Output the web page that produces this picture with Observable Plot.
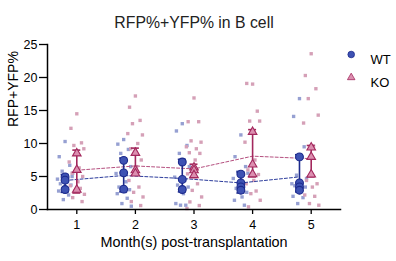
<!DOCTYPE html>
<html><head><meta charset="utf-8">
<script src="https://cdn.jsdelivr.net/npm/d3@7"></script>
<script src="https://cdn.jsdelivr.net/npm/@observablehq/plot@0.6"></script>
<style>
body{margin:0;background:#fff;}
#chart{width:396px;height:261px;}
</style>
</head><body><div id="chart"></div>
<script>
// ---- data ----
const months = [1, 2, 3, 4, 5];
const yTicks = [0, 5, 10, 15, 20, 25];
const groups = ["WT", "KO"];
const title = "RFP%+YFP% in B cell";
const yLabel = "RFP+YFP%";
const xLabel = "Month(s) post-transplantation";

// individual mice (small squares), one list per month
const wtPoints = [
  [10.3, 8.0, 6.7, 5.8, 5.0, 4.6, 4.2, 3.9, 3.7, 3.3, 2.8, 2.2, 1.5, 5.5],
  [10.6, 9.9, 9.1, 8.5, 6.5, 5.45, 4.2, 3.4, 3.0, 2.7, 2.4, 1.7, 0.9, 0.5],
  [13.0, 11.9, 9.7, 8.5, 6.5, 4.9, 4.4, 3.7, 3.4, 2.4, 0.9, 0.65, 0.65],
  [11.3, 8.0, 6.5, 5.7, 5.5, 4.7, 3.4, 3.2, 2.6, 1.9, 1.4, 0.65],
  [16.8, 14.1, 9.5, 5.2, 4.7, 3.9, 3.9, 3.6, 3.4, 2.7, 2.0, 1.8, 0.9]
];
const koPoints = [
  [14.5, 12.3, 10.1, 9.7, 9.2, 7.2, 6.3, 5.5, 5.0, 4.2, 3.6, 3.2, 2.8, 2.3, 1.8, 1.2],
  [17.2, 15.5, 13.5, 13.0, 11.3, 11.5, 10.0, 9.2, 7.5, 6.5, 4.4, 3.4, 2.6, 1.9, 1.2, 0.6],
  [16.9, 13.3, 13.3, 10.4, 10.2, 9.5, 9.2, 8.6, 8.5, 7.5, 5.4, 3.9, 2.9, 1.9, 1.15, 0.6, 0.15],
  [19.0, 19.1, 14.9, 13.4, 13.4, 10.2, 7.5, 6.0, 5.3, 4.4, 3.9, 2.8, 2.4, 1.4, 0.4],
  [23.6, 20.3, 18.3, 16.8, 14.3, 13.1, 9.6, 4.4, 3.9, 3.4, 2.2, 2.0, 0.9, 0.65]
];
// experiment means (large symbols)
const wtExp = [
  [4.94, 4.44, 3.03],
  [7.45, 5.55, 3.08],
  [7.2, 4.55, 3.03],
  [5.35, 4.03, 3.42, 2.92],
  [7.97, 4.03, 3.42, 2.92]
];
const koExp = [
  [8.5, 6.0, 3.0],
  [8.58, 5.95, 5.45],
  [6.36, 5.95, 5.2],
  [11.76, 6.82, 5.35],
  [9.39, 7.97, 5.3]
];
// overall means (dashed lines)
const wtMean = [4.4, 5.15, 4.7, 4.03, 4.94];
const koMean = [5.95, 6.6, 6.15, 8.08, 7.7];
// error bars
const wtLow = [2.6, 2.67, 2.67, 2.5, 2.67];
const wtHigh = [5.3, 7.8, 7.6, 5.7, 8.3];
const koLow = [2.5, 5.2, 4.85, 4.94, 4.94];
const koHigh = [9.0, 9.3, 6.86, 12.1, 9.7];

// ---- layout / style ----
const groupShift = {WT: -0.2, KO: 0};
const jitter = [0, -0.1, 0.08, -0.05, 0.12, -0.13, 0.04, -0.08, 0.1, 0.02, -0.11, 0.06, -0.03, 0.13, -0.07, 0.09, -0.12];
const col = {
  WT: {light: "#96a0d2", fill: "#3e52b3", stroke: "#1c2a8c", line: "#2c3c9c"},
  KO: {light: "#d5a0b7", fill: "#dc8fb0", stroke: "#a3285d", line: "#b5507f"}
};
const font = '"Liberation Sans", Arial, sans-serif';

const scatter = [], exps = [], means = [], bars = [];
months.forEach((m, i) => {
  [["WT", wtPoints, wtExp, wtMean, wtLow, wtHigh], ["KO", koPoints, koExp, koMean, koLow, koHigh]]
    .forEach(([g, pts, ex, mn, lo, hi]) => {
      const x = m + groupShift[g];
      pts[i].forEach((v, j) => scatter.push({group: g, x: x + jitter[j % jitter.length], value: v}));
      ex[i].forEach(v => exps.push({group: g, x, value: v}));
      means.push({group: g, x, value: mn[i]});
      bars.push({group: g, x, lo: lo[i], hi: hi[i]});
    });
});
const cap = 0.068;
const capRows = bars.flatMap(b => [{...b, y: b.lo}, {...b, y: b.hi}]);

const legendMarks = groups.flatMap((g, i) => [
  Plot.dot([g], {frameAnchor: "top-right", dx: 10.7, dy: 10 + i * 23,
    symbol: g === "WT" ? "circle" : "triangle", r: g === "WT" ? 3.3 : 2.8,
    fill: col[g].fill, stroke: col[g].stroke, strokeWidth: 0.8}),
  Plot.text([g], {frameAnchor: "top-right", dx: 30, dy: 10 + i * 23,
    textAnchor: "start", fontSize: 13, fill: "#000"})
]);

const plot = Plot.plot({
  width: 396, height: 261,
  marginLeft: 47, marginRight: 56, marginTop: 44, marginBottom: 52,
  x: {domain: [0.5, 5.5], axis: null},
  y: {domain: [0, 25], axis: null},
  style: {fontFamily: font, background: "white", color: "#000"},
  marks: [
    Plot.dot(scatter, {x: "x", y: "value", symbol: "square", r: 1.9, stroke: null,
      fill: d => col[d.group].light}),
    Plot.line(means.filter(d => d.group === "WT"), {x: "x", y: "value", stroke: col.WT.line, strokeWidth: 1, strokeDasharray: "3,2"}),
    Plot.line(means.filter(d => d.group === "KO"), {x: "x", y: "value", stroke: col.KO.line, strokeWidth: 1, strokeDasharray: "3,2"}),
    Plot.ruleX(bars, {x: "x", y1: "lo", y2: "hi", stroke: d => col[d.group].stroke, strokeWidth: 1.6}),
    Plot.ruleY(capRows, {y: "y", x1: d => d.x - cap, x2: d => d.x + cap, stroke: d => col[d.group].stroke, strokeWidth: 1.6}),
    Plot.dot(exps.filter(d => d.group === "WT"), {x: "x", y: "value", symbol: "circle", r: 3.9,
      fill: col.WT.fill, stroke: col.WT.stroke, strokeWidth: 1.1}),
    Plot.dot(exps.filter(d => d.group === "KO"), {x: "x", y: "value", symbol: "triangle", r: 3.2,
      fill: col.KO.fill, stroke: col.KO.stroke, strokeWidth: 1.1}),
    // axes
    Plot.frame({anchor: "left", stroke: "#000", strokeWidth: 1.5}),
    Plot.frame({anchor: "bottom", stroke: "#000", strokeWidth: 1.5}),
    Plot.axisY({ticks: yTicks, tickSize: 8, tickPadding: 2, fontSize: 12.5, label: null, strokeWidth: 1.3}),
    Plot.axisX({ticks: months, tickSize: 5, tickPadding: 6, fontSize: 12.5, label: null, tickFormat: d3.format("d"), strokeWidth: 1.3}),
    // labels
    Plot.text([yLabel], {frameAnchor: "left", dx: -34, rotate: -90, fontSize: 14, fill: "#000"}),
    Plot.text([xLabel], {frameAnchor: "bottom", dy: 37, fontSize: 14.4, fill: "#000"}),
    Plot.text([title], {frameAnchor: "top", dy: -28, fontSize: 15.8, fill: "#222"}),
    ...legendMarks
  ]
});
document.getElementById("chart").appendChild(plot);
</script>
</body></html>
